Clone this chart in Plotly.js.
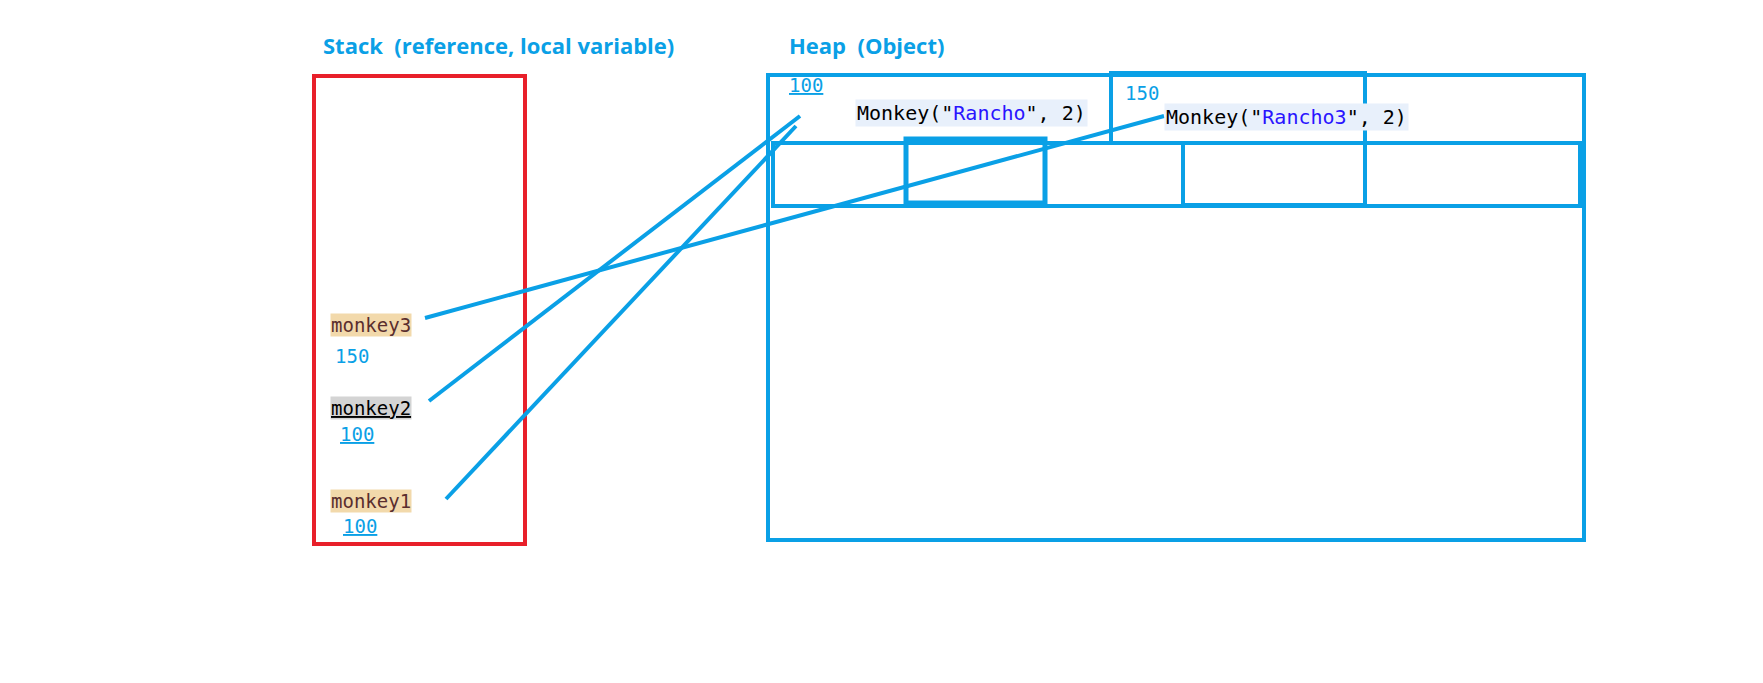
<!DOCTYPE html>
<html><head><meta charset="utf-8">
<script src="https://cdn.plot.ly/plotly-3.0.1.min.js"></script>
<style>body{margin:0;background:#fff}</style></head>
<body><div id="c" style="width:1763px;height:683px"></div>
<script>
const blue = '#0aa0e6';
const titles = ['Stack  (reference, local variable)', 'Heap  (Object)'];
const titleX = [321, 787];
const varNames = ['monkey3', 'monkey2', 'monkey1'];
const varY = [325, 408, 501];
const varBg = ['#f2d9ab', '#d4d4d4', '#f2d9ab'];
const varAddr = ['150', '100', '100'];
const addrY = [356, 434, 526];
const addrX = [333, 338, 341];
const objTexts = ['Monkey("<span style=\"color:#2a14ff\">Rancho</span>", 2)', 'Monkey("<span style=\"color:#2a14ff\">Rancho3</span>", 2)'];
const objX = [855, 1164];
const objY = [113, 117];
const objAddr = ['100', '150'];
const objAddrX = [787, 1123];
const objAddrY = [85, 93];
// reference arrows: [x0,y0,x1,y1]
const refs = [[425,318,1164,116],[429,401,800,116],[446,499,796,126]];

const shapes = [];
const rect=(x0,y0,x1,y1,c,w)=>shapes.push({type:'rect',xref:'x',yref:'y',x0,y0,x1,y1,line:{color:c,width:w}});
rect(314,76,525,544,'#e8202a',4);
rect(768,75,1584,540,blue,4);
rect(773,143,1580,206,blue,4);
rect(906,139,1045,203,blue,5);
rect(1183,143,1365,205,blue,4);
rect(1111,73,1365,143,blue,4);
refs.forEach(r=>shapes.push({type:'line',xref:'x',yref:'y',x0:r[0],y0:r[1],x1:r[2],y1:r[3],line:{color:blue,width:4}}));

const ann = [];
const mono = 'DejaVu Sans Mono, monospace';
titles.forEach((t,i)=>ann.push({x:titleX[i],y:45,text:'<b>'+t+'</b>',xanchor:'left',yanchor:'middle',showarrow:false,font:{family:'Open Sans, sans-serif',size:22,color:blue}}));
varNames.forEach((t,i)=>ann.push({x:330,y:varY[i],text:i==1?'<u>'+t+'</u>':t,xanchor:'left',yanchor:'middle',showarrow:false,bgcolor:varBg[i],borderpad:0,font:{family:mono,size:19,color:i==1?'#000':'#5a2e2e'}}));
varAddr.forEach((t,i)=>ann.push({x:addrX[i],y:addrY[i],text:i==0?t:'<u>'+t+'</u>',xanchor:'left',yanchor:'middle',showarrow:false,font:{family:mono,size:19,color:blue}}));
objTexts.forEach((t,i)=>ann.push({x:objX[i],y:objY[i],text:t,xanchor:'left',yanchor:'middle',showarrow:false,bgcolor:'#e8f0fb',borderpad:1,font:{family:mono,size:20,color:'#000'}}));
objAddr.forEach((t,i)=>ann.push({x:objAddrX[i],y:objAddrY[i],text:i==0?'<u>'+t+'</u>':t,xanchor:'left',yanchor:'middle',showarrow:false,font:{family:mono,size:19,color:blue}}));

Plotly.newPlot('c',[{x:[0],y:[0],mode:'markers',marker:{opacity:0},hoverinfo:'skip',showlegend:false}],{
  width:1763,height:683,margin:{l:0,r:0,t:0,b:0},paper_bgcolor:'#fff',plot_bgcolor:'#fff',
  xaxis:{range:[0,1763],visible:false,fixedrange:true},
  yaxis:{range:[683,0],visible:false,fixedrange:true},
  shapes,annotations:ann,showlegend:false
},{staticPlot:true});
</script></body></html>
